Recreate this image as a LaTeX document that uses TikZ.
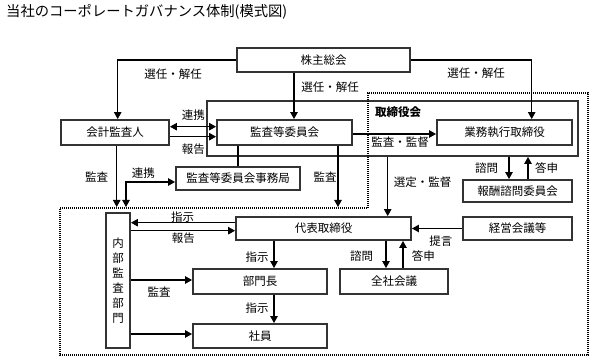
\documentclass[tikz,border=0pt]{standalone}
\usepackage{fontspec}
\newfontfamily\jp{Noto Sans CJK JP}
\usetikzlibrary{arrows.meta}
\begin{document}
\begin{tikzpicture}[x=1pt,y=-1pt,
  every node/.style={font=\jp\fontsize{11.5}{13}\selectfont, inner sep=0pt},
  box/.style={draw=black!80, line width=1.9pt, fill=white, rectangle},
  conn/.style={line width=1.1pt, black},
  arr/.style={conn, -{Triangle[length=7pt,width=7.5pt]}},
  darr/.style={conn, {Triangle[length=7pt,width=7.5pt]}-{Triangle[length=7pt,width=7.5pt]}},
  lbl/.style={anchor=center},
  dotline/.style={line width=1.3pt, dash pattern=on 1pt off 1pt}
]
\useasboundingbox (0,0) rectangle (597,363);

% title
\node[anchor=west, font=\jp\fontsize{14.3}{16}\selectfont] (title) at (6,12) {当社のコーポレートガバナンス体制(模式図)};

% outer board box
\node[box, minimum width=371pt, minimum height=55pt] (tori) at (392.5,128.5) {};
\node[anchor=west, font=\jp\bfseries\fontsize{11.5}{13}\selectfont] (torilbl) at (375,111.7) {取締役会};

% dotted region
\draw[dotline] (368,208) -- (368,93) -- (588,93) -- (588,355) -- (60,355) -- (60,208) -- cycle;

% boxes
\node[box, minimum width=173pt, minimum height=24pt] (soukai) at (323.5,60) {株主総会};
\node[box, minimum width=108pt, minimum height=25pt] (kaikei) at (115,132.5) {会計監査人};
\node[box, minimum width=135pt, minimum height=25pt] (kansa) at (284.5,132.5) {監査等委員会};
\node[box, minimum width=135pt, minimum height=25pt] (gyomu) at (504.5,132.5) {業務執行取締役};
\node[box, minimum width=124pt, minimum height=23pt] (jimu) at (238,178.5) {監査等委員会事務局};
\node[box, minimum width=109pt, minimum height=22pt] (houshu) at (517.5,191) {報酬諮問委員会};
\node[box, minimum width=109pt, minimum height=23pt] (keiei) at (517.5,228.5) {経営会議等};
\node[box, minimum width=175pt, minimum height=23pt] (daihyo) at (323.5,228.5) {代表取締役};
\node[box, minimum width=108pt, minimum height=25pt] (zensha) at (394,281.5) {全社会議};
\node[box, minimum width=24pt, minimum height=135pt, align=center, font=\jp\fontsize{11.5}{15}\selectfont] (naibu) at (118,280.5) {内\\部\\監\\査\\部\\門};
\node[box, minimum width=134pt, minimum height=25pt] (bumon) at (260,281.5) {部門長};
\node[box, minimum width=134pt, minimum height=24pt] (shain) at (260,336) {社員};

% free ends on the dotted line
\coordinate (dA) at (116.7,207);
\coordinate (dB) at (126,207);
\coordinate (dC) at (338,207);

% connectors
\draw[arr] (soukai.west) -| ([xshift=2.7pt]kaikei.north);
\draw[arr] ([xshift=9.5pt]kansa.north |- soukai.south) -- ([xshift=9.5pt]kansa.north);
\draw[arr] (soukai.east) -| ([xshift=27.2pt]gyomu.north);
\draw[darr] ([yshift=5.8pt]kaikei.east) -- ([yshift=5.8pt]kansa.west);
\draw[arr] ([yshift=-4.2pt]kaikei.east) -- ([yshift=-4.2pt]kansa.west);
\draw[arr] ([yshift=-1.5pt]kansa.east) -- ([yshift=-1.5pt]gyomu.west);
\draw[conn] (jimu.north |- kansa.south) -- (jimu.north);
\draw[arr] (dC |- kansa.south) -- (dC);
\draw[arr] (dA |- kaikei.south) -- (dA);
\draw[darr] (dB) |- ([yshift=-3.5pt]jimu.west);
\draw[arr] ([xshift=-4.8pt]tori.south) -- ([xshift=-4.8pt]tori.south |- daihyo.north);
\draw[arr] ([xshift=-8.5pt]houshu.north |- tori.south) -- ([xshift=-8.5pt]houshu.north);
\draw[arr] ([xshift=10.5pt]houshu.north) -- ([xshift=10.5pt]houshu.north |- tori.south);
\draw[arr] (keiei.west) -- (keiei.west -| daihyo.east);
\draw[arr] ([xshift=-8pt]zensha.north |- daihyo.south) -- ([xshift=-8pt]zensha.north);
\draw[arr] ([xshift=9pt]zensha.north) -- ([xshift=9pt]zensha.north |- daihyo.south);
\draw[arr] ([yshift=5.8pt]daihyo.west) -- ([yshift=5.8pt]daihyo.west -| naibu.east);
\draw[arr] ([yshift=-2.2pt]daihyo.west -| naibu.east) -- ([yshift=-2.2pt]daihyo.west);
\draw[arr] ([xshift=14pt]bumon.north |- daihyo.south) -- ([xshift=14pt]bumon.north);
\draw[arr] ([yshift=1.5pt]bumon.west -| naibu.east) -- ([yshift=1.5pt]bumon.west);
\draw[arr] ([xshift=14pt]bumon.south) -- ([xshift=14pt]shain.north);
\draw[arr] ([yshift=2pt]shain.west -| naibu.east) -- ([yshift=2pt]shain.west);

% labels
\node[lbl] (l1) at (173,74.3) {選任・解任};
\node[lbl] (l2) at (330,86.7) {選任・解任};
\node[lbl] (l3) at (476,73.3) {選任・解任};
\node[lbl] (l4) at (193.3,115) {連携};
\node[lbl] (l5) at (193.3,149.3) {報告};
\node[lbl] (l6) at (400,141.7) {監査・監督};
\node[lbl] (l7) at (96.7,176.7) {監査};
\node[lbl] (l8) at (143.3,173.3) {連携};
\node[lbl] (l9) at (325,177) {監査};
\node[lbl] (l10) at (422.5,181.7) {選定・監督};
\node[lbl] (l11) at (486.7,168.3) {諮問};
\node[lbl] (l12) at (546.7,168.3) {答申};
\node[lbl] (l13) at (182.5,216.7) {指示};
\node[lbl] (l14) at (183.3,237.7) {報告};
\node[lbl] (l15) at (440.8,240.7) {提言};
\node[lbl] (l16) at (361.7,256) {諮問};
\node[lbl] (l17) at (423.3,256) {答申};
\node[lbl] (l18) at (257,256.7) {指示};
\node[lbl] (l19) at (159,291.7) {監査};
\node[lbl] (l20) at (257,308.3) {指示};
\end{tikzpicture}
\end{document}
